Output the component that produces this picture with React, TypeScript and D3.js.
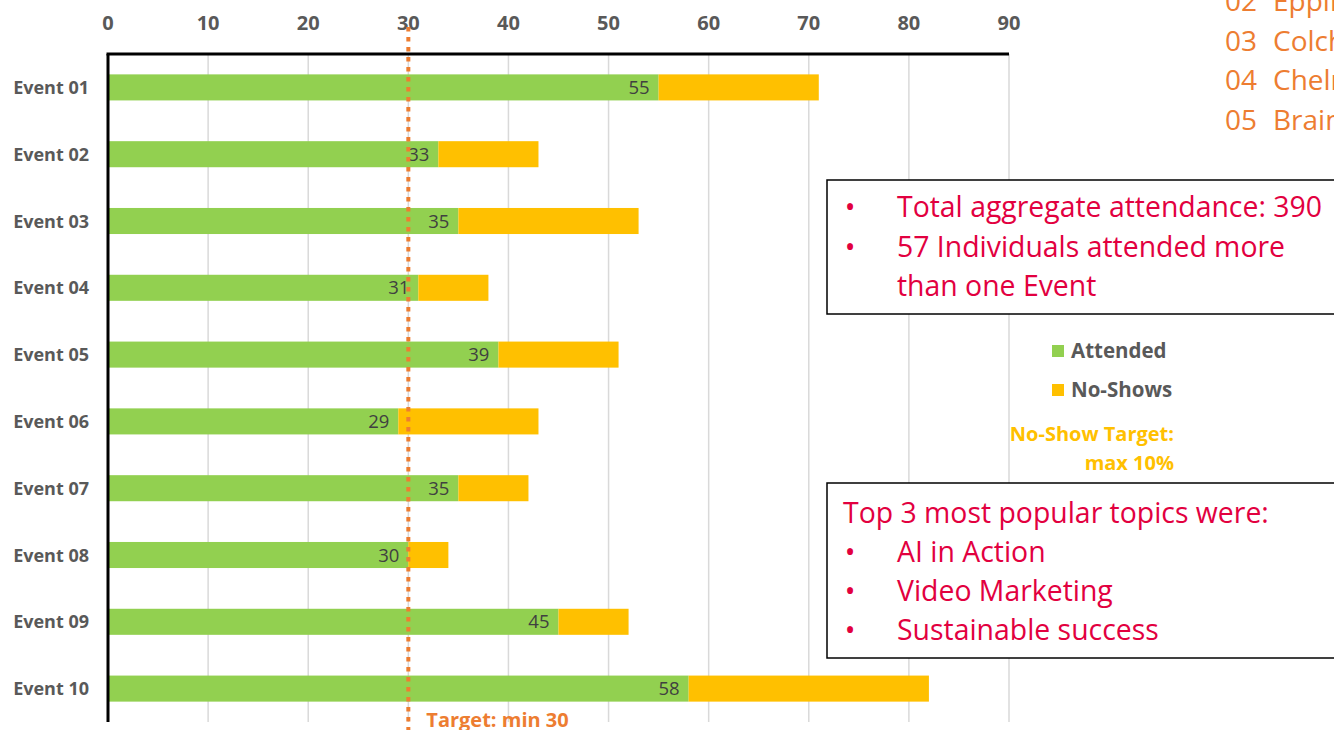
import React, { useRef, useEffect } from 'react';
import * as d3 from 'd3';

// attendance per event
const events = ['Event 01', 'Event 02', 'Event 03', 'Event 04', 'Event 05', 'Event 06', 'Event 07', 'Event 08', 'Event 09', 'Event 10'];
const attended = [55, 33, 35, 31, 39, 29, 35, 30, 45, 58];
const noShows = [16, 10, 18, 7, 12, 14, 7, 4, 7, 24];
const xTicks = [0, 10, 20, 30, 40, 50, 60, 70, 80, 90];
const targetMin = 30;

// side notes
const venueCodes = ['02', '03', '04', '05'];
const venueNames = ['Epping', 'Colchester', 'Chelmsford', 'Braintree'];
const summaryLines = [
  { bullet: true, text: 'Total aggregate attendance: 390' },
  { bullet: true, text: '57 Individuals attended more' },
  { bullet: false, text: 'than one Event' },
];
const topicsTitle = 'Top 3 most popular topics were:';
const topics = ['AI in Action', 'Video Marketing', 'Sustainable success'];
const legendItems = [
  { label: 'Attended', color: '#92D050' },
  { label: 'No-Shows', color: '#FFC000' },
];

const FONT = "'Open Sans', 'DejaVu Sans', sans-serif";
const RED = '#E2003F';
const ORANGE = '#ED7D31';
const NOTE_SIZE = '28.4px';

export default function App() {
  const svgRef = useRef<SVGSVGElement>(null);

  useEffect(() => {
    const width = 1334;
    const height = 730;
    const left = 108, right = 1009, top = 54, bottom = 722;

    const svg = d3.select(svgRef.current);
    svg.selectAll('*').remove();
    svg.append('rect').attr('width', width).attr('height', height).attr('fill', '#fff');

    const x = d3.scaleLinear().domain([0, 90]).range([left, right]);
    const y = d3.scaleBand<string>()
      .domain(events)
      .range([top, bottom])
      .paddingInner(0.61)
      .paddingOuter(0.305);

    const rows = events.map((e, i) => ({ e, a: attended[i], n: noShows[i] }));

    // gridlines
    svg.append('g')
      .selectAll('line')
      .data(xTicks.slice(1))
      .join('line')
      .attr('x1', d => x(d)).attr('x2', d => x(d))
      .attr('y1', top).attr('y2', bottom)
      .attr('stroke', '#D9D9D9')
      .attr('stroke-width', 1.5);

    // top tick labels
    svg.append('g')
      .selectAll('text')
      .data(xTicks)
      .join('text')
      .attr('x', d => x(d))
      .attr('y', 29.5)
      .attr('text-anchor', 'middle')
      .attr('fill', '#595959')
      .style('font-family', FONT)
      .style('font-weight', '700')
      .style('font-size', '20px')
      .text(d => d);

    // bars
    const bars = svg.append('g');
    bars.selectAll('.att')
      .data(rows)
      .join('rect')
      .attr('class', 'att')
      .attr('x', x(0))
      .attr('y', d => y(d.e)!)
      .attr('width', d => x(d.a) - x(0))
      .attr('height', y.bandwidth())
      .attr('fill', '#92D050');
    bars.selectAll('.ns')
      .data(rows)
      .join('rect')
      .attr('class', 'ns')
      .attr('x', d => x(d.a))
      .attr('y', d => y(d.e)!)
      .attr('width', d => x(d.a + d.n) - x(d.a))
      .attr('height', y.bandwidth())
      .attr('fill', '#FFC000');

    // data labels
    bars.selectAll('.lbl')
      .data(rows)
      .join('text')
      .attr('class', 'lbl')
      .attr('x', d => x(d.a) - 9)
      .attr('y', d => y(d.e)! + y.bandwidth() / 2 + 6.5)
      .attr('text-anchor', 'end')
      .attr('fill', '#404040')
      .style('font-family', FONT)
      .style('font-size', '18.5px')
      .text(d => d.a);

    // category labels
    svg.append('g')
      .selectAll('text')
      .data(events)
      .join('text')
      .attr('x', 89)
      .attr('y', d => y(d)! + y.bandwidth() / 2 + 6.5)
      .attr('text-anchor', 'end')
      .attr('fill', '#595959')
      .style('font-family', FONT)
      .style('font-weight', '700')
      .style('font-size', '18px')
      .text(d => d);

    // axis lines
    svg.append('line')
      .attr('x1', left - 1.5).attr('x2', right)
      .attr('y1', top).attr('y2', top)
      .attr('stroke', '#000').attr('stroke-width', 3);
    svg.append('line')
      .attr('x1', left).attr('x2', left)
      .attr('y1', top).attr('y2', bottom)
      .attr('stroke', '#000').attr('stroke-width', 3);

    // target line
    svg.append('line')
      .attr('x1', x(targetMin)).attr('x2', x(targetMin))
      .attr('y1', 27).attr('y2', height)
      .attr('stroke', ORANGE)
      .attr('stroke-width', 4)
      .attr('stroke-dasharray', '4.5 5.5');
    svg.append('text')
      .attr('x', x(targetMin) + 18)
      .attr('y', 727)
      .attr('fill', ORANGE)
      .style('font-family', FONT)
      .style('font-weight', '700')
      .style('font-size', '20px')
      .text(`Target: min ${targetMin}`);

    // venue list top right
    const venues = svg.append('g')
      .style('font-family', FONT)
      .style('font-size', '28px')
      .attr('fill', ORANGE);
    venueCodes.forEach((c, i) => {
      venues.append('text').attr('x', 1225).attr('y', 11 + i * 39.5).text(c);
      venues.append('text').attr('x', 1273).attr('y', 11 + i * 39.5).text(venueNames[i]);
    });

    // summary box
    const box1 = svg.append('g');
    box1.append('rect')
      .attr('x', 827).attr('y', 180)
      .attr('width', 540).attr('height', 134)
      .attr('fill', '#fff').attr('stroke', '#000').attr('stroke-width', 1.5);
    summaryLines.forEach((l, i) => {
      const by = 217 + i * 39.5;
      if (l.bullet) {
        box1.append('text').attr('x', 850).attr('y', by).attr('text-anchor', 'middle')
          .attr('fill', RED).style('font-family', FONT).style('font-size', NOTE_SIZE).text('•');
      }
      box1.append('text').attr('x', 897).attr('y', by)
        .attr('fill', RED).style('font-family', FONT).style('font-size', NOTE_SIZE).text(l.text);
    });

    // legend
    const legend = svg.append('g').style('font-family', FONT);
    legendItems.forEach((it, i) => {
      const ly = 351 + i * 39;
      legend.append('rect').attr('x', 1052).attr('y', ly - 6).attr('width', 12).attr('height', 12).attr('fill', it.color);
      legend.append('text').attr('x', 1071).attr('y', ly + 7)
        .attr('fill', '#595959').style('font-weight', '700').style('font-size', '20.5px').text(it.label);
    });
    legend.append('text').attr('x', 1174).attr('y', 441).attr('text-anchor', 'end')
      .attr('fill', '#FFC000').style('font-weight', '700').style('font-size', '20px').text('No-Show Target:');
    legend.append('text').attr('x', 1174).attr('y', 470).attr('text-anchor', 'end')
      .attr('fill', '#FFC000').style('font-weight', '700').style('font-size', '20px').text('max 10%');

    // topics box
    const box2 = svg.append('g');
    box2.append('rect')
      .attr('x', 827).attr('y', 483)
      .attr('width', 540).attr('height', 175)
      .attr('fill', '#fff').attr('stroke', '#000').attr('stroke-width', 1.5);
    box2.append('text').attr('x', 843).attr('y', 523)
      .attr('fill', RED).style('font-family', FONT).style('font-size', NOTE_SIZE).text(topicsTitle);
    topics.forEach((t, i) => {
      const by = 562 + i * 39;
      box2.append('text').attr('x', 850).attr('y', by).attr('text-anchor', 'middle')
        .attr('fill', RED).style('font-family', FONT).style('font-size', NOTE_SIZE).text('•');
      box2.append('text').attr('x', 897).attr('y', by)
        .attr('fill', RED).style('font-family', FONT).style('font-size', NOTE_SIZE).text(t);
    });
  }, []);

  return (
    <div style={{ position: 'fixed', left: 0, top: 0, width: 1334, height: 730, overflow: 'hidden' }}>
      <svg ref={svgRef} width={1334} height={730} viewBox="0 0 1334 730" style={{ display: 'block' }}></svg>
    </div>
  );
}
